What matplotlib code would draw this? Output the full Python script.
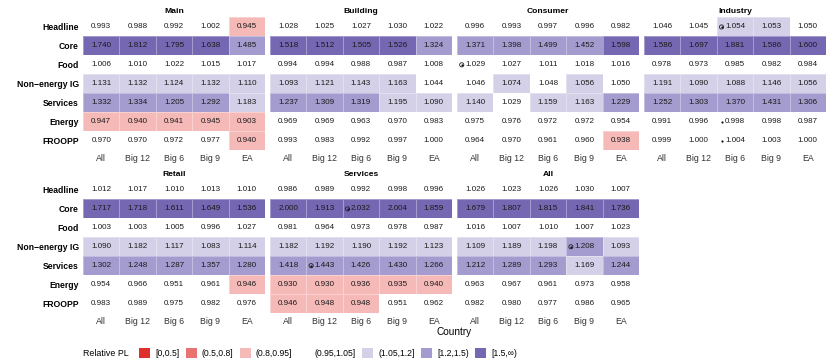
import numpy as np
import matplotlib
matplotlib.use('Agg')
import matplotlib.pyplot as plt
from matplotlib.colors import ListedColormap
from matplotlib.patches import Patch

plt.rcParams['font.family'] = ['Liberation Sans', 'DejaVu Sans']

rows = ['Headline', 'Core', 'Food', 'Non\u2212energy IG', 'Services', 'Energy', 'FROOPP']
countries = ['All', 'Big 12', 'Big 6', 'Big 9', 'EA']

# relative price levels, one row per component, columns follow countries
main = [[0.993, 0.988, 0.992, 1.002, 0.945],
        [1.740, 1.812, 1.795, 1.638, 1.485],
        [1.006, 1.010, 1.022, 1.015, 1.017],
        [1.131, 1.132, 1.124, 1.132, 1.110],
        [1.332, 1.334, 1.205, 1.292, 1.183],
        [0.947, 0.940, 0.941, 0.945, 0.903],
        [0.970, 0.970, 0.972, 0.977, 0.940]]

building = [[1.028, 1.025, 1.027, 1.030, 1.022],
            [1.518, 1.512, 1.505, 1.526, 1.324],
            [0.994, 0.994, 0.988, 0.987, 1.008],
            [1.093, 1.121, 1.143, 1.163, 1.044],
            [1.237, 1.309, 1.319, 1.195, 1.090],
            [0.969, 0.969, 0.963, 0.970, 0.983],
            [0.993, 0.983, 0.992, 0.997, 1.000]]

consumer = [[0.996, 0.993, 0.997, 0.996, 0.982],
            [1.371, 1.398, 1.499, 1.452, 1.598],
            [1.029, 1.027, 1.011, 1.018, 1.016],
            [1.046, 1.074, 1.048, 1.056, 1.050],
            [1.140, 1.029, 1.159, 1.163, 1.229],
            [0.975, 0.976, 0.972, 0.972, 0.954],
            [0.964, 0.970, 0.961, 0.960, 0.938]]

industry = [[1.046, 1.045, 1.054, 1.053, 1.050],
            [1.586, 1.697, 1.881, 1.586, 1.600],
            [0.978, 0.973, 0.985, 0.982, 0.984],
            [1.191, 1.090, 1.088, 1.146, 1.056],
            [1.252, 1.303, 1.370, 1.431, 1.306],
            [0.991, 0.996, 0.998, 0.998, 0.987],
            [0.999, 1.000, 1.004, 1.003, 1.000]]

retail = [[1.012, 1.017, 1.010, 1.013, 1.010],
          [1.717, 1.718, 1.611, 1.649, 1.536],
          [1.003, 1.003, 1.005, 0.996, 1.027],
          [1.090, 1.182, 1.117, 1.083, 1.114],
          [1.302, 1.248, 1.287, 1.357, 1.280],
          [0.954, 0.966, 0.951, 0.961, 0.946],
          [0.983, 0.989, 0.975, 0.982, 0.976]]

services = [[0.986, 0.989, 0.992, 0.998, 0.996],
            [2.000, 1.913, 2.032, 2.004, 1.859],
            [0.981, 0.964, 0.973, 0.978, 0.987],
            [1.182, 1.192, 1.190, 1.192, 1.123],
            [1.418, 1.443, 1.426, 1.430, 1.266],
            [0.930, 0.930, 0.936, 0.935, 0.940],
            [0.946, 0.948, 0.948, 0.951, 0.962]]

all_sectors = [[1.026, 1.023, 1.026, 1.030, 1.007],
               [1.679, 1.807, 1.815, 1.841, 1.736],
               [1.016, 1.007, 1.010, 1.007, 1.023],
               [1.109, 1.189, 1.198, 1.208, 1.093],
               [1.212, 1.289, 1.293, 1.169, 1.244],
               [0.963, 0.967, 0.961, 0.973, 0.958],
               [0.982, 0.980, 0.977, 0.986, 0.965]]

panels = [('Main', main), ('Building', building), ('Consumer', consumer),
          ('Industry', industry), ('Retail', retail), ('Services', services),
          ('All', all_sectors)]

# flagged cells: (panel, row, country, kind)
flags = [('Consumer', 'Food', 'All', 'ring'),
         ('Industry', 'Headline', 'Big 6', 'ring'),
         ('Industry', 'Energy', 'Big 6', 'dot'),
         ('Industry', 'FROOPP', 'Big 6', 'dot'),
         ('Services', 'Core', 'Big 6', 'ring'),
         ('Services', 'Services', 'Big 12', 'ring'),
         ('All', 'Non\u2212energy IG', 'Big 9', 'ring')]

bins = [0.5, 0.8, 0.95, 1.05, 1.2, 1.5]
bin_labels = ['[0,0.5]', '(0.5,0.8]', '(0.8,0.95]', '(0.95,1.05]',
              '(1.05,1.2]', '[1.2,1.5)', '[1.5,\u221e)']
bin_colors = ['#e0302e', '#e97371', '#f5b9b8', '#ffffff',
              '#d4d0e7', '#a49bcf', '#7567b1']
cmap = ListedColormap(bin_colors)

W, H = 830, 363
fig = plt.figure(figsize=(W / 100, H / 100), dpi=100)

pw, ph, gap = 182, 132.5, 5
tops = [17.5, 180.5]

for i, (name, vals) in enumerate(panels):
    r, c = divmod(i, 4)
    x0 = 83 + c * (pw + gap)
    y0 = tops[r]
    ax = fig.add_axes([x0 / W, 1 - (y0 + ph) / H, pw / W, ph / H])
    v = np.array(vals)
    idx = np.digitize(v, bins, right=True)
    ax.pcolormesh(np.arange(6), np.arange(8), idx, cmap=cmap, vmin=-0.5, vmax=6.5,
                  edgecolors=(1, 1, 1, 0.35), linewidth=0.4)
    for ri in range(v.shape[0]):
        for ci in range(v.shape[1]):
            ax.text(ci + 0.5, ri + 0.5, f'{v[ri, ci]:.3f}', ha='center', va='center',
                    fontsize=5.8, color='#1a1a1a')
    for pn, rn, cn, kind in flags:
        if pn != name:
            continue
        fx = countries.index(cn) + 0.5 - 0.37
        fy = rows.index(rn) + 0.5
        if kind == 'ring':
            ax.scatter([fx], [fy], s=9, facecolors='none', edgecolors='#222222', linewidths=0.6)
        ax.scatter([fx], [fy], s=2.5, color='#111111', linewidths=0)
    ax.set_xlim(0, 5)
    ax.set_ylim(7, 0)
    ax.set_xticks(np.arange(5) + 0.5, countries)
    ax.set_yticks(np.arange(7) + 0.5, rows if c == 0 else [])
    ax.tick_params(length=0, axis='x', pad=3, labelsize=6.3, labelcolor='#333333')
    ax.tick_params(length=0, axis='y', pad=3, labelsize=6.2, labelcolor='black')
    for lab in ax.get_yticklabels():
        lab.set_fontweight('bold')
    for s in ax.spines.values():
        s.set_visible(False)
    ax.set_title(name, fontsize=6.1, fontweight='bold', pad=3)

fig.text(454 / W, 1 - 332 / H, 'Country', ha='center', va='center', fontsize=7.2)

handles = [Patch(facecolor=col, edgecolor='none') for col in bin_colors]
fig.text(83 / W, 1 - 353 / H, 'Relative PL', ha='left', va='center', fontsize=6.4)
fig.legend(handles, bin_labels, loc='center left', bbox_to_anchor=(139 / W, 1 - 353 / H),
           ncol=7, frameon=False, fontsize=6.2, handlelength=1.3, handleheight=1.3,
           handletextpad=0.6, columnspacing=0.7, borderaxespad=0, borderpad=0)

fig.savefig('out.png', dpi=100, facecolor='white')
